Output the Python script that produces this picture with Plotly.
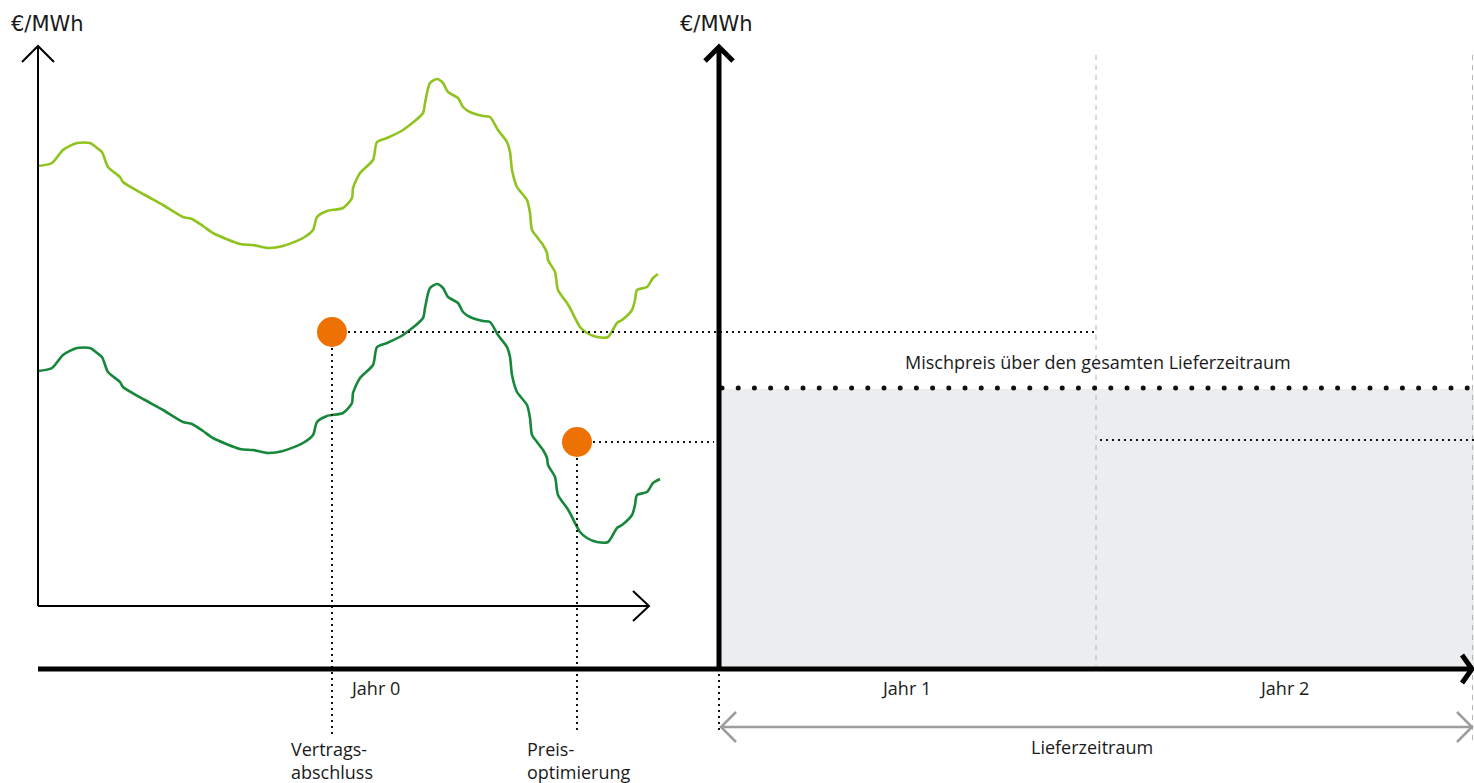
import numpy as np
import plotly.graph_objects as go

# ---------------- data (schematic units: x = time position, y = price position, axis reversed) ----
unit_label = "€/MWh"
year_labels = ["Jahr 0", "Jahr 1", "Jahr 2"]
year_label_x = [375, 906, 1284]

light_x = [38, 52, 63, 77, 90, 97, 102, 108, 120, 123, 145, 163, 183, 192, 203, 213, 240, 253, 268,
           283, 303, 313, 317, 327, 343, 352, 353, 360, 373, 377, 387, 403, 423, 425, 430, 437, 443,
           448, 458, 463, 470, 483, 490, 498, 507, 510, 512, 517, 527, 530, 532, 537, 543, 547, 548,
           555, 558, 567, 570, 580, 587, 597, 608, 617, 622, 632, 635, 637, 647, 653, 658]
light_y = [166, 163, 150, 143, 143, 148, 152, 167, 177, 182, 195, 205, 217, 219, 226, 233, 244, 245,
           248, 246, 238, 230, 217, 211, 208, 198, 188, 173, 160, 142, 138, 130, 113, 103, 83, 79, 83,
           92, 98, 107, 112, 116, 117, 130, 142, 152, 170, 187, 200, 213, 230, 237, 245, 253, 260,
           272, 290, 303, 308, 327, 333, 337, 337, 323, 320, 310, 300, 290, 287, 278, 274]

dark_x = [38, 52, 63, 77, 90, 97, 102, 108, 120, 123, 145, 163, 183, 192, 203, 213, 240, 253, 268,
          283, 303, 313, 317, 327, 343, 352, 353, 360, 373, 377, 387, 403, 423, 425, 430, 437, 443,
          448, 458, 463, 470, 483, 490, 498, 507, 510, 512, 517, 527, 530, 532, 537, 543, 547, 548,
          555, 558, 567, 570, 580, 587, 597, 608, 617, 622, 632, 635, 637, 647, 653, 660]
dark_y = [371, 368, 355, 348, 348, 353, 357, 372, 382, 387, 400, 410, 422, 424, 431, 438, 449, 450,
          453, 451, 443, 435, 422, 416, 413, 403, 393, 378, 365, 347, 343, 335, 318, 308, 288, 284,
          288, 297, 303, 312, 317, 321, 322, 335, 347, 357, 375, 392, 405, 418, 435, 442, 450, 458,
          465, 477, 495, 508, 513, 532, 538, 542, 542, 528, 525, 515, 505, 495, 492, 483, 479]

event_labels = ["Vertrags-<br>abschluss", "Preis-<br>optimierung"]
event_x = [332, 577]
event_price = [332, 442]

mix_price = 388          # Mischpreis level
year2_price = 440        # price level for Jahr 2
year_split_x = 1096      # boundary Jahr 1 / Jahr 2
delivery_start = 719
delivery_end = 1473
mix_label = "Mischpreis über den gesamten Lieferzeitraum"
delivery_label = "Lieferzeitraum"

# ---------------- styles ----------------
LIGHT = "#8fc31f"
DARK = "#17873a"
ORANGE = "#ee7203"
FILL = "#ecedef"
GRAYLINE = "#9d9d9d"
DASHGRAY = "#b4b4b4"
TXT = "#1a1a1a"
FONT = "Open Sans"

W, H = 1474, 783
fig = go.Figure()

# price curves
fig.add_trace(go.Scatter(x=light_x, y=light_y, mode="lines",
                         line=dict(color=LIGHT, width=2.6, shape="spline", smoothing=0.7),
                         hoverinfo="skip"))
fig.add_trace(go.Scatter(x=dark_x, y=dark_y, mode="lines",
                         line=dict(color=DARK, width=2.6, shape="spline", smoothing=0.7),
                         hoverinfo="skip"))

# Mischpreis dotted line (round dots)
dots_x = np.arange(delivery_start + 3, W, 16.2)
fig.add_trace(go.Scatter(x=dots_x, y=[mix_price] * len(dots_x), mode="markers",
                         marker=dict(color="#111111", size=5), hoverinfo="skip"))

# event markers
fig.add_trace(go.Scatter(x=event_x, y=event_price, mode="markers",
                         marker=dict(color=ORANGE, size=30, line=dict(width=0)),
                         hoverinfo="skip"))

shapes = []
# grey delivery area
shapes.append(dict(type="rect", x0=delivery_start + 1, x1=W, y0=mix_price + 1, y1=667,
                   fillcolor=FILL, line=dict(width=0), layer="below"))
# dashed grey verticals
shapes.append(dict(type="line", x0=year_split_x, x1=year_split_x, y0=55, y1=666,
                   line=dict(color=DASHGRAY, width=1, dash="5px,5px"), layer="below"))
shapes.append(dict(type="line", x0=1472.5, x1=1472.5, y0=55, y1=745,
                   line=dict(color=DASHGRAY, width=1, dash="5px,5px"), layer="below"))

dot = dict(color="#111111", width=2, dash="2px,4px")
# dotted guides from events
shapes.append(dict(type="line", x0=event_x[0] + 16, x1=year_split_x, y0=event_price[0], y1=event_price[0], line=dot))
shapes.append(dict(type="line", x0=event_x[1] + 16, x1=714, y0=event_price[1], y1=event_price[1], line=dot))
shapes.append(dict(type="line", x0=event_x[0], x1=event_x[0], y0=event_price[0] + 16, y1=734, line=dot))
shapes.append(dict(type="line", x0=event_x[1], x1=event_x[1], y0=event_price[1] + 16, y1=734, line=dot))
shapes.append(dict(type="line", x0=delivery_start, x1=delivery_start, y0=674, y1=734, line=dot))
shapes.append(dict(type="line", x0=year_split_x + 4, x1=W, y0=year2_price, y1=year2_price, line=dot))

# small (Jahr 0) axes
thin = dict(color="#000000", width=2)
shapes.append(dict(type="line", x0=38, x1=38, y0=606, y1=47, line=thin))
shapes.append(dict(type="path", path="M 22,62 L 38,46 L 54,62", line=thin))
shapes.append(dict(type="line", x0=38, x1=649, y0=606, y1=606, line=thin))
shapes.append(dict(type="path", path="M 633,591 L 649,606 L 633,621", line=thin))

# big axes
thick = dict(color="#000000", width=5)
shapes.append(dict(type="line", x0=38, x1=1471, y0=669, y1=669, line=thick))
shapes.append(dict(type="path", path="M 1462,655 L 1472,669 L 1462,683", line=thick))
shapes.append(dict(type="line", x0=delivery_start, x1=delivery_start, y0=671, y1=48, line=thick))
shapes.append(dict(type="path", path="M 705,61 L 719,47 L 733,61", line=thick))

# Lieferzeitraum double arrow
grey = dict(color=GRAYLINE, width=2.5)
shapes.append(dict(type="line", x0=delivery_start + 2, x1=1471, y0=727, y1=727, line=grey))
shapes.append(dict(type="path", path="M 736,712 L 721,727 L 736,742", line=grey))
shapes.append(dict(type="path", path="M 1457,712 L 1472,727 L 1457,742", line=grey))

ann = []
for ux in (47, 716):
    ann.append(dict(x=ux, y=24, text=unit_label, showarrow=False, xanchor="center", yanchor="middle",
                    font=dict(family="DejaVu Sans", size=21, color=TXT)))
for lbl, lx in zip(year_labels, year_label_x):
    ann.append(dict(x=lx, y=688, text=lbl, showarrow=False, xanchor="center", yanchor="middle",
                    font=dict(family=FONT, size=18, color=TXT)))
ann.append(dict(x=1098, y=362, text=mix_label, showarrow=False, xanchor="center", yanchor="middle",
                font=dict(family=FONT, size=18, color=TXT)))
ann.append(dict(x=1092, y=747, text=delivery_label, showarrow=False, xanchor="center", yanchor="middle",
                font=dict(family=FONT, size=18, color=TXT)))
for lbl, ex in zip(event_labels, event_x):
    ann.append(dict(x=ex - (43 if ex == event_x[0] else 52), y=760, text=lbl, showarrow=False,
                    xanchor="left", yanchor="middle", align="left",
                    font=dict(family=FONT, size=18, color=TXT)))

fig.update_layout(
    width=W, height=H, autosize=False,
    margin=dict(l=0, r=0, t=0, b=0, pad=0),
    paper_bgcolor="white", plot_bgcolor="white",
    showlegend=False,
    xaxis=dict(range=[0, W], visible=False, fixedrange=True),
    yaxis=dict(range=[H, 0], visible=False, fixedrange=True),
    shapes=shapes, annotations=ann,
)

fig.write_html("out.html", config={"displayModeBar": False},
               post_script="document.body.style.margin='0';document.body.style.overflow='hidden';")
